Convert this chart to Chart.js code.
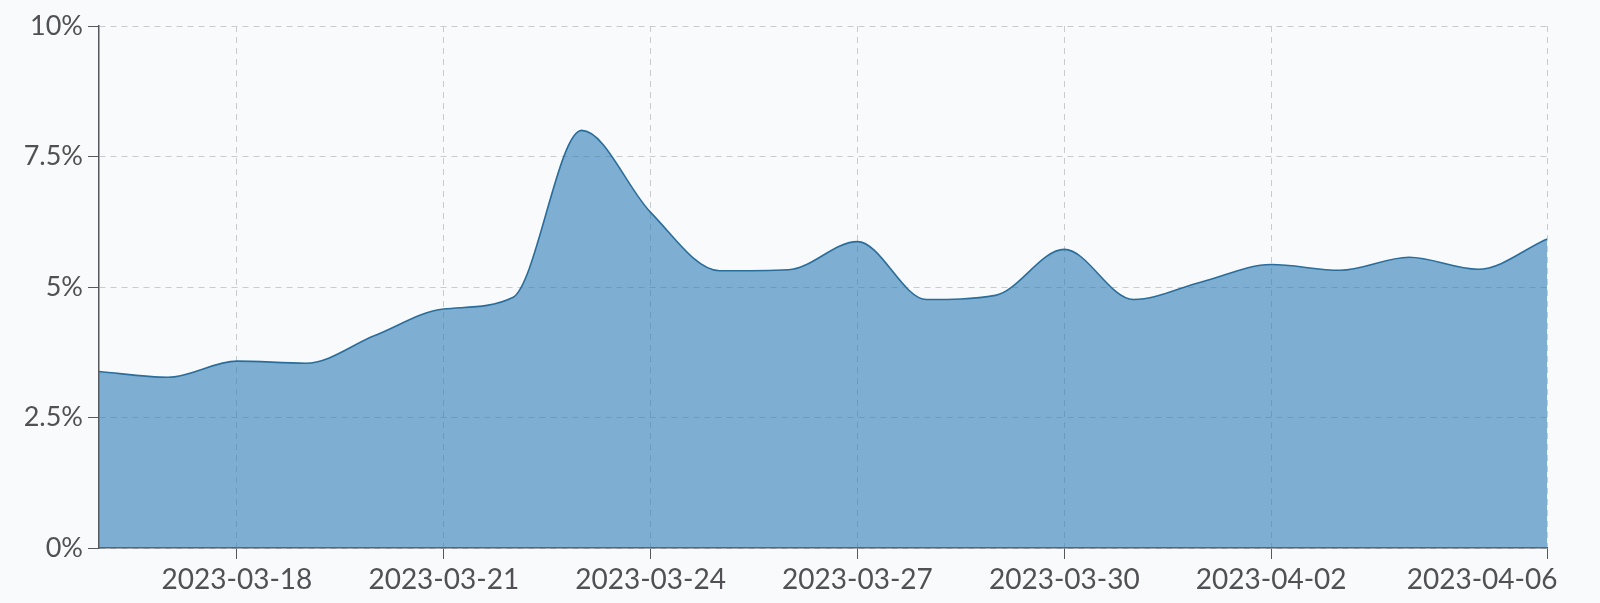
<!DOCTYPE html>
<html>
<head>
<meta charset="utf-8">
<script src="https://cdn.jsdelivr.net/npm/chart.js@4"></script>
<style>
  html, body { margin: 0; padding: 0; background: #f9fafb; }
  #wrap { width: 1600px; height: 603px; }
</style>
</head>
<body>
<div id="wrap"><canvas id="c" width="1600" height="603"></canvas></div>
<script>
const dates = [
  "2023-03-16","2023-03-17","2023-03-18","2023-03-19","2023-03-20","2023-03-21",
  "2023-03-22","2023-03-23","2023-03-24","2023-03-25","2023-03-26","2023-03-27",
  "2023-03-28","2023-03-29","2023-03-30","2023-03-31","2023-04-01","2023-04-02",
  "2023-04-03","2023-04-04","2023-04-05","2023-04-06"
];
const rates = [
  3.38, 3.27, 3.58, 3.54, 4.07, 4.58,
  4.80, 8.00, 6.43, 5.31, 5.33, 5.87,
  4.76, 4.84, 5.72, 4.76, 5.10, 5.43,
  5.32, 5.57, 5.34, 5.92
];
const shownDates = ["2023-03-18","2023-03-21","2023-03-24","2023-03-27","2023-03-30","2023-04-02","2023-04-06"];
const yTicks = [0, 2.5, 5, 7.5, 10];

const textColor = '#505055';
const axisColor = '#55585c';
const gridColor = '#c9cbcf';

new Chart(document.getElementById('c'), {
  type: 'line',
  data: {
    labels: dates,
    datasets: [{
      data: rates,
      borderColor: '#2a6d9a',
      borderWidth: 1.6,
      backgroundColor: 'rgba(44,123,182,0.6)',
      fill: 'origin',
      pointRadius: 0,
      cubicInterpolationMode: 'monotone'
    }]
  },
  options: {
    responsive: false,
    animation: false,
    layout: { padding: { top: 26, right: 53, left: 0, bottom: 0 } },
    plugins: { legend: { display: false }, tooltip: { enabled: false } },
    scales: {
      x: {
        type: 'category',
        offset: false,
        afterBuildTicks: axis => {
          axis.ticks = axis.ticks.filter(t => shownDates.includes(dates[t.value]));
        },
        afterFit: s => { s.height = 55; s.paddingLeft = 0; s.paddingRight = 0; },
        grid: {
          color: gridColor,
          lineWidth: 1,
          tickColor: axisColor,
          tickLength: 11,
          tickBorderDash: []
        },
        border: { display: true, color: axisColor, width: 1.5, dash: [6, 5] },
        ticks: {
          autoSkip: false,
          maxRotation: 0,
          padding: 4,
          color: textColor,
          font: { family: 'Lato', size: 28 },
          callback: function(v) {
            const l = dates[v];
            return l === dates[dates.length - 1] ? l + '\u2007\u2007\u2007\u2007\u2007\u2007\u2007\u2007' : l;
          }
        }
      },
      y: {
        min: 0,
        max: 10,
        afterBuildTicks: axis => { axis.ticks = yTicks.map(v => ({ value: v })); },
        afterFit: s => { s.width = 99; },
        grid: {
          color: gridColor,
          lineWidth: 1,
          tickColor: axisColor,
          tickLength: 11,
          tickBorderDash: []
        },
        border: { display: true, color: axisColor, width: 1.5, dash: [6, 5] },
        ticks: {
          padding: 5,
          color: textColor,
          font: { family: 'Lato', size: 27 },
          callback: v => v + '%'
        }
      }
    }
  }
});
</script>
</body>
</html>
